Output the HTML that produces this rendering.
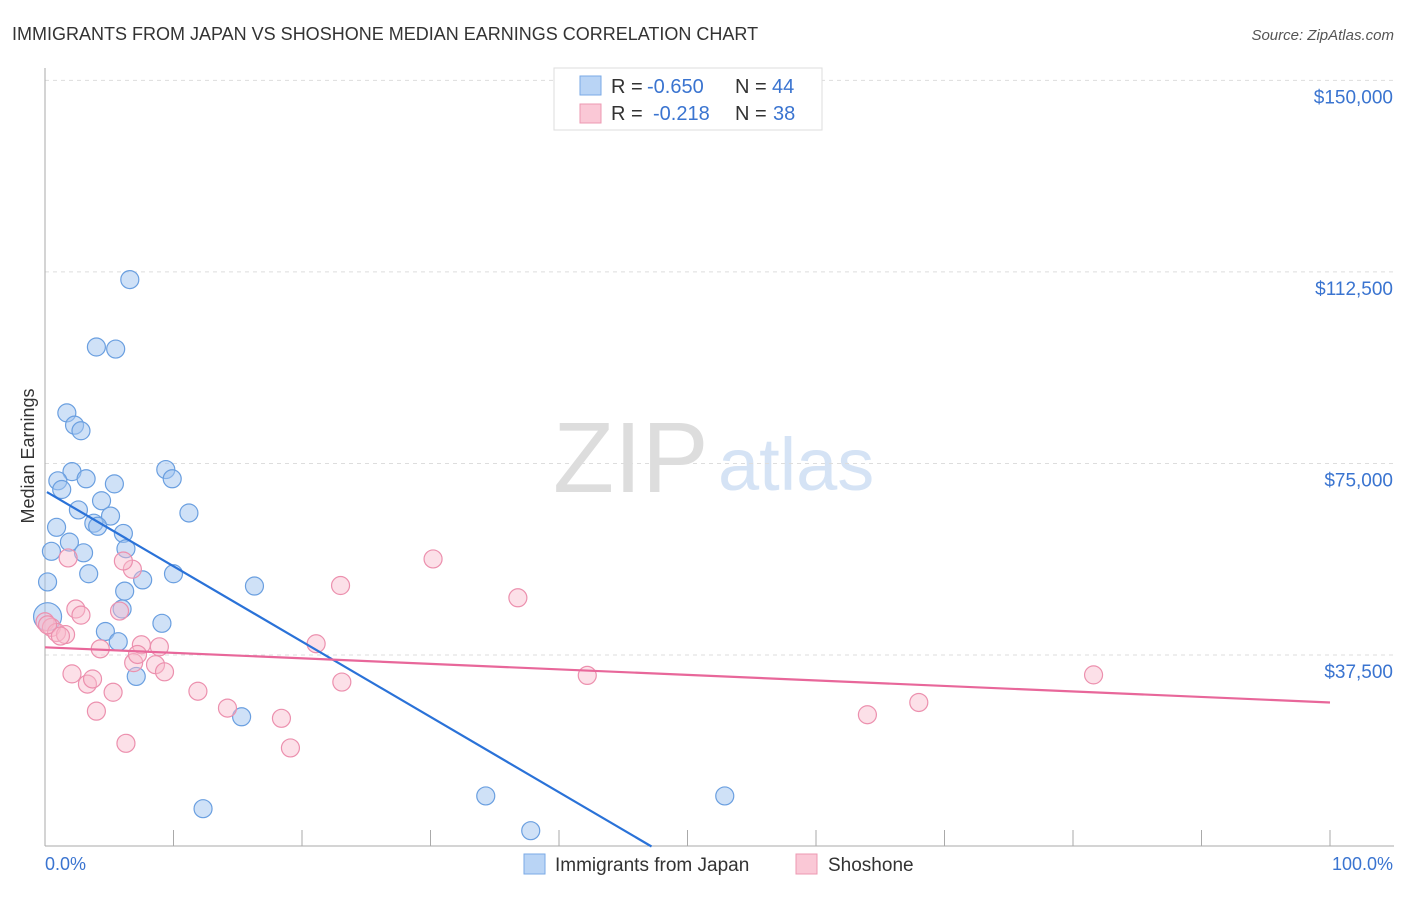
<!DOCTYPE html>
<html><head><meta charset="utf-8"><style>
body{margin:0;background:#fff;font-family:"Liberation Sans",sans-serif}
svg text{font-family:"Liberation Sans",sans-serif}
</style></head><body>
<svg id="c" width="1406" height="892">
<text x="12" y="40" font-size="18" fill="#333">IMMIGRANTS FROM JAPAN VS SHOSHONE MEDIAN EARNINGS CORRELATION CHART</text>
<text x="1394" y="40" font-size="15" fill="#555" text-anchor="end" font-style="italic">Source: ZipAtlas.com</text>
<text x="34" y="456" font-size="18" fill="#333" text-anchor="middle" transform="rotate(-90 34 456)">Median Earnings</text>
<text x="553" y="492" font-size="100" fill="#ddd" font-family="Liberation Serif">ZIP</text>
<text x="718" y="490" font-size="74" fill="#d5e3f5">atlas</text>
<g id="grid"></g><g id="pts"></g><g id="lines"></g>
<g>
<rect x="554" y="68" width="268" height="62" fill="#fff" stroke="#ddd"/>
<rect x="580" y="76" width="21" height="19" fill="#b9d4f5" stroke="#7aaae6"/>
<rect x="580" y="104" width="21" height="19" fill="#fac8d6" stroke="#ec98b2"/>
<text x="611" y="93" font-size="20" fill="#333">R =</text>
<text x="647" y="93" font-size="20" fill="#3a74d0">-0.650</text>
<text x="735" y="93" font-size="20" fill="#333">N =</text>
<text x="772" y="93" font-size="20" fill="#3a74d0">44</text>
<text x="611" y="120" font-size="20" fill="#333">R =</text>
<text x="653" y="120" font-size="20" fill="#3a74d0">-0.218</text>
<text x="735" y="120" font-size="20" fill="#333">N =</text>
<text x="773" y="120" font-size="20" fill="#3a74d0">38</text>
</g>
<g>
<rect x="524" y="854" width="21" height="20" fill="#b9d4f5" stroke="#7aaae6"/>
<text x="555" y="871" font-size="19" fill="#333">Immigrants from Japan</text>
<rect x="796" y="854" width="21" height="20" fill="#fac8d6" stroke="#ec98b2"/>
<text x="828" y="871" font-size="19" fill="#333">Shoshone</text>
</g>
<text x="45" y="870" font-size="18" fill="#3a74d0">0.0%</text>
<text x="1393" y="870" font-size="18" fill="#3a74d0" text-anchor="end">100.0%</text>
</svg>
<script>
const yTicks=[37500,75000,112500,150000];
const yTickLabels=["$37,500","$75,000","$112,500","$150,000"];
const japanX=[6.6,4.0,5.5,1.7,2.3,2.8,2.1,9.4,9.9,1.0,3.2,1.3,5.4,4.4,2.6,11.2,5.1,0.9,3.8,4.1,6.1,1.9,3.0,6.3,0.5,3.4,7.6,10.0,0.2,16.3,6.2,6.0,0.2,9.1,4.7,5.7,7.1,15.3,12.3,34.3,52.9,37.8];
const japanY=[111000,97800,97400,84900,82500,81400,73400,73800,72000,71600,72000,69900,71000,67700,65900,65300,64700,62500,63300,62700,61300,59600,57500,58300,57800,53400,52200,53400,51800,51000,50000,46500,45000,43700,42100,40100,33300,25400,7400,9900,9900,3100];
const shoX=[0.0,0.5,0.9,1.6,1.8,2.4,2.8,4.3,6.8,6.1,5.8,7.5,8.9,6.9,8.6,9.3,2.1,3.3,3.7,5.3,4.0,6.3,11.9,14.2,18.4,19.1,21.1,23.1,23.0,30.2,36.8,42.2,64.0,68.0,81.6,0.2,1.2,7.2];
const shoY=[44000,42900,41900,41500,56500,46500,45300,38700,54300,55900,46100,39500,39100,36000,35600,34200,33800,31800,32800,30200,26500,20200,30400,27100,25100,19300,39700,32200,51100,56300,48700,33500,25800,28200,33600,43400,41200,37600];
const japanLine=[[0.15,69400],[47.2,0]];
const shoLine=[[0,39000],[100,28200]];
const X=v=>45+v*12.85, Y=v=>846.5-v/195.8;
const NS='http://www.w3.org/2000/svg';
function mk(t,a,p){const e=document.createElementNS(NS,t);for(const k in a)e.setAttribute(k,a[k]);p.appendChild(e);return e;}
const g=document.getElementById('grid');
yTicks.forEach((t,i)=>{
 const l=mk('line',{x1:45,x2:1394,y1:Y(t),y2:Y(t),stroke:'#ddd','stroke-dasharray':'4,4'},g);
 
 
 const tx=mk('text',{x:1393,y:Y(t)+23,'font-size':19,fill:'#3a74d0','text-anchor':'end'},g);
 tx.textContent=yTickLabels[i];
 
 
});
mk('line',{x1:45,x2:45,y1:68,y2:846,stroke:'#aaa'},g);
mk('line',{x1:45,x2:1394,y1:846,y2:846,stroke:'#aaa'},g);
for(let i=0;i<=10;i++){const t=mk('line',{x1:X(i*10),x2:X(i*10),y1:830,y2:846,stroke:'#aaa'},g);
 
 }
const p=document.getElementById('pts');
japanX.forEach((x,i)=>{const c=mk('circle',{cx:X(x),cy:Y(japanY[i]),r:i==32?14:9,fill:'rgba(160,196,240,0.5)',stroke:'#6a9fe0','stroke-width':1.2},p);
 
 });
shoX.forEach((x,i)=>{const c=mk('circle',{cx:X(x),cy:Y(shoY[i]),r:9,fill:'rgba(248,186,205,0.45)',stroke:'#ec90ae','stroke-width':1.2},p);
 
 });
const L=document.getElementById('lines');
const a=mk('line',{x1:X(japanLine[0][0]),y1:Y(japanLine[0][1]),x2:X(japanLine[1][0]),y2:Y(japanLine[1][1]),stroke:'#2a72d8','stroke-width':2.2},L);


const b=mk('line',{x1:X(shoLine[0][0]),y1:Y(shoLine[0][1]),x2:X(shoLine[1][0]),y2:Y(shoLine[1][1]),stroke:'#e8679a','stroke-width':2.2},L);


</script>
</body></html>
